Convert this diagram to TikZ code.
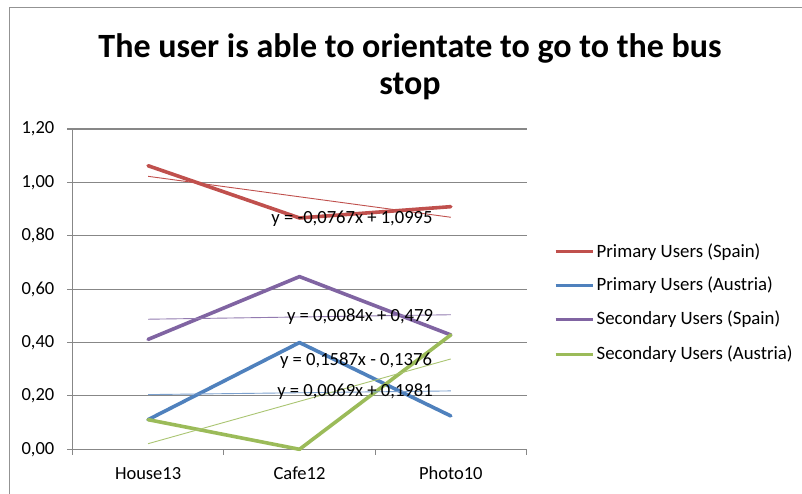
\documentclass[tikz,border=0pt]{standalone}
\usepackage{fontspec}
\setmainfont{Carlito}
\definecolor{spainP}{HTML}{C0504D}
\definecolor{austriaP}{HTML}{4F81BD}
\definecolor{spainS}{HTML}{8064A2}
\definecolor{austriaS}{HTML}{9BBB59}
\definecolor{gridgray}{HTML}{878787}
\begin{document}
\begin{tikzpicture}[x=1pt,y=-1pt,
  declare function={py(\v)=449.3-266.9*\v;},
  gridline/.style={draw=gridgray,line width=1.1pt},
  frameline/.style={draw=gridgray!90,line width=1.6pt},
  series/.style={line width=3.6pt,line join=round,line cap=round},
  trend/.style={line width=0.9pt},
  ticklabel/.style={font=\fontsize{18.5}{20}\selectfont,inner sep=0pt},
  eqlabel/.style={font=\fontsize{18.6}{20}\selectfont,inner sep=0pt},
  legendtext/.style={font=\fontsize{18.8}{20}\selectfont,inner sep=0pt,anchor=west},
  titletext/.style={font=\fontsize{34}{37}\selectfont\bfseries,align=center,inner sep=0pt}]
\useasboundingbox (0,0) rectangle (802,493);
\fill[white] (0,0) rectangle (802,493);

% chart frame (left and top edges)
\coordinate (frameBL) at (9.3,494);
\coordinate (frameTL) at (9.3,7.3);
\coordinate (frameTR) at (803,7.3);
\draw[frameline] (frameBL) -- (frameTL) -- (frameTR);

% title
\node[titletext] (title) at (410,67) {The user is able to orientate to go to the bus\\stop};

% horizontal gridlines, ticks and value labels
\foreach \v/\t in {0.2/{0,20},0.4/{0,40},0.6/{0,60},0.8/{0,80},1.0/{1,00},1.2/{1,20}}{
  \coordinate (gr) at (526.5,{py(\v)});
  \coordinate (gt) at (67,{py(\v)});
  \draw[gridline] (gt) -- (gr);
  \node[ticklabel,anchor=east] at (54.5,{py(\v)}) {\t};
}
\node[ticklabel,anchor=east] (lab0) at (54.5,{py(0)}) {0,00};

% axes
\coordinate (origin) at (72.5,{py(0)});
\coordinate (xend) at (526.5,{py(0)});
\coordinate (ytop) at (72.5,{py(1.2)});
\coordinate (ytick0) at (67,{py(0)});
\draw[gridline] (ytick0) -- (xend);
\draw[gridline] (origin) -- (ytop);
\foreach \x in {72.5,223.8,375.2,526.5}{
  \coordinate (ct) at (\x,{py(0)});
  \coordinate (cb) at (\x,{py(0)+5.5});
  \draw[gridline] (ct) -- (cb);
}

% category labels
\node[ticklabel] (catA) at (148.1,473.5) {House13};
\node[ticklabel] (catB) at (299.5,473.5) {Cafe12};
\node[ticklabel] (catC) at (450.8,473.5) {Photo10};

% data points
\coordinate (rA) at (148.1,{py(1.0625)});
\coordinate (rB) at (299.5,{py(0.8667)});
\coordinate (rC) at (450.8,{py(0.9091)});
\coordinate (bA) at (148.1,{py(0.1111)});
\coordinate (bB) at (299.5,{py(0.4)});
\coordinate (bC) at (450.8,{py(0.125)});
\coordinate (pA) at (148.1,{py(0.4118)});
\coordinate (pB) at (299.5,{py(0.647)});
\coordinate (pC) at (450.8,{py(0.4286)});
\coordinate (gA) at (148.1,{py(0.1111)});
\coordinate (gB) at (299.5,{py(0.0)});
\coordinate (gC) at (450.8,{py(0.4286)});

% series
\draw[series,spainP] (rA) -- (rB) -- (rC);
\draw[series,austriaP] (bA) -- (bB) -- (bC);
\draw[series,spainS] (pA) -- (pB) -- (pC);
\draw[series,austriaS] (gA) -- (gB) -- (gC);

% linear trendlines
\coordinate (rtA) at (148.1,{py(1.0228)});
\coordinate (rtC) at (450.8,{py(0.8694)});
\coordinate (btA) at (148.1,{py(0.2050)});
\coordinate (btC) at (450.8,{py(0.2188)});
\coordinate (ptA) at (148.1,{py(0.4874)});
\coordinate (ptC) at (450.8,{py(0.5042)});
\coordinate (gtA) at (148.1,{py(0.0211)});
\coordinate (gtC) at (450.8,{py(0.3385)});
\draw[trend,spainP] (rtA) -- (rtC);
\draw[trend,austriaP!75] (btA) -- (btC);
\draw[trend,spainS!85] (ptA) -- (ptC);
\draw[trend,austriaS!85] (gtA) -- (gtC);

% trendline equations
\node[eqlabel] (eqR) at (352,218.5) {y = -0,0767x + 1,0995};
\node[eqlabel] (eqP) at (360,317) {y = 0,0084x + 0,479};
\node[eqlabel] (eqG) at (356,360.5) {y = 0,1587x - 0,1376};
\node[eqlabel] (eqB) at (355,391.5) {y = 0,0069x + 0,1981};

% legend
\foreach \c/\yy/\t/\n in {spainP/251.7/Primary Users (Spain)/l1,
                          austriaP/285.2/Primary Users (Austria)/l2,
                          spainS/319.3/Secondary Users (Spain)/l3,
                          austriaS/354.3/Secondary Users (Austria)/l4}{
  \coordinate (\n a) at (555.5,\yy);
  \coordinate (\n b) at (592.5,\yy);
  \draw[\c,line width=3.4pt] (\n a) -- (\n b);
  \node[legendtext] (\n t) at (596.5,\yy) {\t};
}
\end{tikzpicture}
\end{document}
